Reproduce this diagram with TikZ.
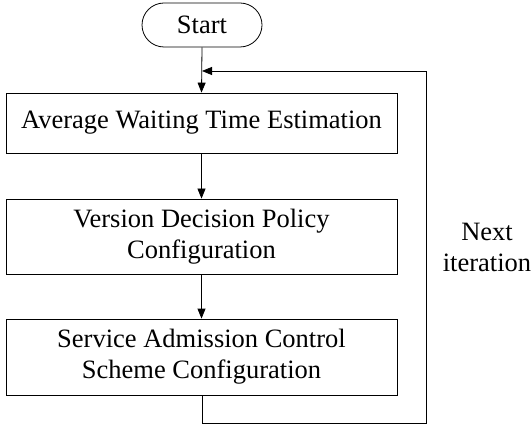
\documentclass[tikz,border=0pt]{standalone}
\usepackage{fontspec}
\setmainfont{Liberation Serif}
\usetikzlibrary{arrows.meta}
\begin{document}
\begin{tikzpicture}[x=1pt,y=1pt,
  box/.style={draw, line width=0.8pt, minimum width=391pt, align=center, inner sep=0pt, font=\fontsize{26.5}{31}\selectfont},
  term/.style={draw, line width=0.8pt, rounded corners=22pt, minimum width=120pt, minimum height=44pt, inner sep=0pt, font=\fontsize{26.5}{31}\selectfont},
  arr/.style={line width=0.8pt, -{Triangle[length=10pt,width=8pt]}},
  lbl/.style={align=center, font=\fontsize{26.5}{31}\selectfont}]
\useasboundingbox (0,0) rectangle (532,426);
\node[term] (start) at (202,401) {Start};
\node[box, minimum height=60pt] (b1) at (201.5,303) {Average Waiting Time Estimation};
\node[box, minimum height=75pt] (b2) at (201.5,189.5) {Version Decision Policy\\Configuration};
\node[box, minimum height=76pt] (b3) at (201.5,69) {Service Admission Control\\Scheme Configuration};
\coordinate (c1) at (202,3);
\coordinate (c2) at (426,3);
\coordinate (c3) at (426,355);
\coordinate (c4) at (202,355);
\node[lbl] (next) at (487,179) {Next\\iteration};
\draw[arr] (start.south) -- (b1.north);
\draw[arr] (b1.south) -- (b2.north);
\draw[arr] (b2.south) -- (b3.north);
\draw[arr] (b3.south -| c1) -- (c1) -- (c2) -- (c3) -- (c4);
\end{tikzpicture}
\end{document}
